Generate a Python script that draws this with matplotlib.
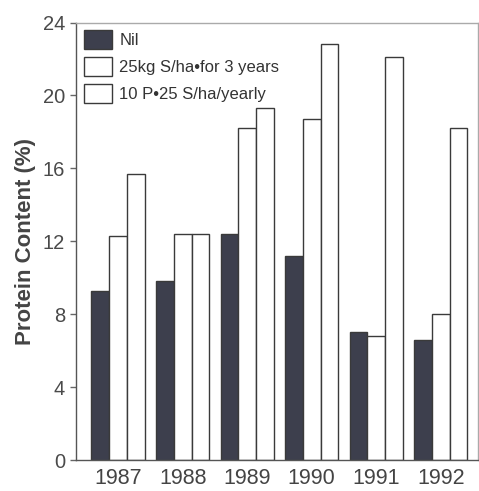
import numpy as np
import matplotlib
matplotlib.use("Agg")
import matplotlib.pyplot as plt

plt.rcParams['font.family'] = ['Liberation Sans', 'DejaVu Sans']

years = ["1987", "1988", "1989", "1990", "1991", "1992"]
nil = [9.3, 9.8, 12.4, 11.2, 7.0, 6.6]
s_3years = [12.3, 12.4, 18.2, 18.7, 6.8, 8.0]
p_yearly = [15.7, 12.4, 19.3, 22.8, 22.1, 18.2]
labels = ["Nil", "25kg S/ha•for 3 years", "10 P•25 S/ha/yearly"]

fig = plt.figure(figsize=(4.79, 4.91), dpi=100)
ax = fig.add_axes([0.1587, 0.0631, 0.8383, 0.8909])

x = np.arange(len(years))
w = 0.275
edge = '#3a3a3a'
ax.bar(x - w, nil, w, color='#3d3f4d', edgecolor=edge, linewidth=1.0, label=labels[0])
ax.bar(x, s_3years, w, color='white', edgecolor=edge, linewidth=1.0, label=labels[1])
ax.bar(x + w, p_yearly, w, color='white', edgecolor=edge, linewidth=1.0, label=labels[2])

ax.set_xlim(-0.652, 5.57)
ax.set_ylim(0, 24)
ax.set_yticks([0, 4, 8, 12, 16, 20, 24])
ax.set_xticks(x)
ax.set_xticklabels(years)

ax.tick_params(axis='x', length=0, pad=6, labelsize=15.5, labelcolor='#444444')
ax.tick_params(axis='y', length=4, width=1, direction='out', color='#666666',
               pad=4, labelsize=14.5, labelcolor='#4a4a4a')

for s in ['left', 'bottom']:
    ax.spines[s].set_color('#555555')
    ax.spines[s].set_linewidth(1.0)
for s in ['top', 'right']:
    ax.spines[s].set_color('#aaaaaa')
    ax.spines[s].set_linewidth(1.0)

ax.set_ylabel("Protein Content (%)", fontsize=16, fontweight='bold', color='#444444', labelpad=5)

ax.legend(loc='upper left', frameon=False, fontsize=12, handlelength=1.7, handleheight=1.35,
          handletextpad=0.45, labelspacing=0.5, borderaxespad=0.05, labelcolor='#333333')

fig.savefig("out.png", dpi=100)
